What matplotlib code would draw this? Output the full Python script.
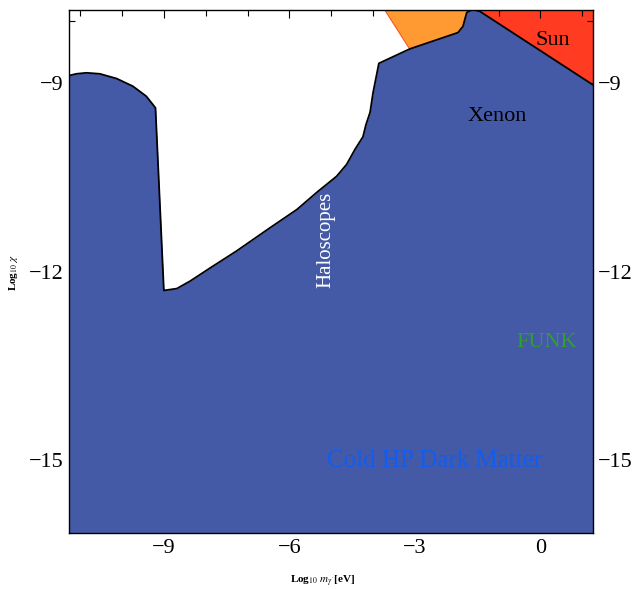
import numpy as np
import matplotlib
matplotlib.use('Agg')
import matplotlib.pyplot as plt
from matplotlib.ticker import MultipleLocator

plt.rcParams['font.family'] = ['Liberation Serif', 'DejaVu Serif']
plt.rcParams['mathtext.fontset'] = 'stix'

# upper edge of the excluded (blue) region, log10 mass [eV] vs log10 chi
bound_x = [-11.26, -11.09, -10.85, -10.53, -10.13, -9.74, -9.42, -9.20, -9.0,
           -8.69, -8.37, -7.89, -7.26, -6.46, -5.82, -5.35, -4.87, -4.63, -4.43,
           -4.24, -4.17, -4.07, -4.0, -3.86, -3.12, -1.97, -1.85, -1.76,
           -1.62, -1.45, 1.25]
bound_y = [-8.874, -8.847, -8.831, -8.847, -8.922, -9.045, -9.204, -9.389, -12.3,
           -12.27, -12.15, -11.94, -11.67, -11.30, -11.01, -10.74, -10.48, -10.29, -10.05,
           -9.85, -9.66, -9.46, -9.15, -8.68, -8.45, -8.19, -8.09, -7.87,
           -7.82, -7.85, -9.02]

# orange band (edge on its left side)
orange_x = [-3.71, -2.6, -1.6, -1.6]
orange_y = [-7.84, -9.0, -9.0, -7.84]

# sun bound
sun_x = [-1.7, 1.25, 1.25, -1.7]
sun_y = [-7.84, -7.84, -9.6, -9.6]

labels = ['Sun', 'Xenon', 'Haloscopes', 'FUNK', 'Cold HP Dark Matter']
label_x = [0.29, -1.04, -5.12, 0.15, -2.52]
label_y = [-8.32, -9.53, -11.49, -13.13, -15.02]

xlim = (-11.26, 1.25)
ylim = (-16.17, -7.83)

fig = plt.figure(figsize=(6.34, 5.89), dpi=100)
ax = fig.add_axes([0.1093, 0.0946, 0.8255, 0.8884])

ax.fill(sun_x, sun_y, color='#ff3b22', lw=0, zorder=1)
ax.fill(orange_x, orange_y, color='#ff9a33', edgecolor='#ff5522', lw=0.8, zorder=2)

fx = np.array(bound_x)
fy = np.array(bound_y)
ax.fill_between(fx, ylim[0] - 1, fy, color='#445aa6', lw=0, zorder=3)
ax.plot(fx, fy, color='black', lw=1.3, zorder=4)

ax.text(label_x[0], label_y[0], labels[0], fontsize=16, ha='center', va='center', zorder=5)
ax.text(label_x[1], label_y[1], labels[1], fontsize=16, ha='center', va='center', zorder=5)
ax.text(label_x[2], label_y[2], labels[2], fontsize=15, ha='center', va='center',
        rotation=90, color='white', zorder=5)
ax.text(label_x[3], label_y[3], labels[3], fontsize=16, ha='center', va='center',
        color='#2ea02c', zorder=5)
ax.text(label_x[4], label_y[4], labels[4], fontsize=18, ha='center', va='center',
        color='#0f5df2', zorder=5)

ax.set_xlim(*xlim)
ax.set_ylim(*ylim)
ax.xaxis.set_major_locator(MultipleLocator(3))
ax.xaxis.set_minor_locator(MultipleLocator(1))
ax.yaxis.set_major_locator(MultipleLocator(3))
ax.yaxis.set_minor_locator(MultipleLocator(1))
ax.tick_params(which='both', direction='in', top=True, right=True,
               labelright=True, labelsize=16, pad=4)
ax.tick_params(which='major', length=6, width=0.8)
ax.tick_params(which='minor', length=4, width=0.8)
for s in ax.spines.values():
    s.set_linewidth(1.0)
    s.set_zorder(6)

fig.text(0.5094, 0.0136, r"Log$_{10}$ $m_{\gamma'}$[eV]", fontsize=8, fontweight='bold',
         ha='center', va='center')
fig.text(0.022, 0.538, r"Log$_{10}$ $\chi$", fontsize=8, fontweight='bold',
         ha='center', va='center', rotation=90)

fig.savefig('out.png', dpi=100)
